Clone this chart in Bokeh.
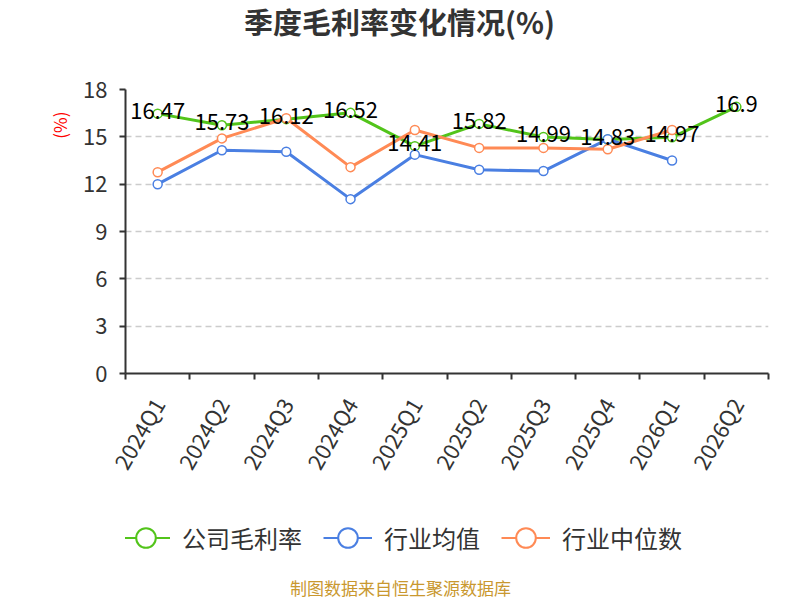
import math
from bokeh.plotting import figure
from bokeh.layouts import column
from bokeh.models import (ColumnDataSource, FixedTicker, Legend, LegendItem, Range1d, Title, Label)
from bokeh.core.properties import value
from bokeh.embed import file_html
from bokeh.resources import INLINE

quarters = ["2024Q1", "2024Q2", "2024Q3", "2024Q4", "2025Q1", "2025Q2",
            "2025Q3", "2025Q4", "2026Q1", "2026Q2"]
company = [16.47, 15.73, 16.12, 16.52, 14.41, 15.82, 14.99, 14.83, 14.97, 16.9]
industry_mean = [12.0, 14.15, 14.05, 11.05, 13.87, 12.91, 12.83, 14.85, 13.5]
industry_median = [12.76, 14.9, 16.18, 13.08, 15.43, 14.3, 14.3, 14.21, 15.43]
y_ticks = [0, 3, 6, 9, 12, 15, 18]

FONT = "Noto Sans CJK SC"
GREEN = "#52c41a"
BLUE = "#4a7fe2"
ORANGE = "#ff8a55"

W = 800
H_TOP, H_MAIN, H_LEG = 50, 455, 95
FRAME_LEFT = 125

# ---- title strip ----
p0 = figure(width=W, height=H_TOP, output_backend="svg", toolbar_location=None,
            x_axis_location=None, y_axis_location=None,
            x_range=Range1d(0, 1), y_range=Range1d(0, 1), min_border=0)
p0.outline_line_color = None
p0.grid.grid_line_color = None
p0.add_layout(Label(x=400 - FRAME_LEFT - 1, y=30, x_units="screen", y_units="screen",
                    text="季度毛利率变化情况(%)", text_font=FONT, text_font_size="29px",
                    text_font_style="bold", text_color="#333333",
                    text_align="center", text_baseline="middle"))

# ---- main chart ----
p = figure(width=W, height=H_MAIN, output_backend="svg", toolbar_location=None,
           x_range=Range1d(0, len(quarters)), y_range=Range1d(0, 18),
           min_border_left=FRAME_LEFT, min_border_right=32, min_border_top=89 - H_TOP,
           min_border_bottom=H_MAIN - (373 - H_TOP))
p.outline_line_color = None

centers = [i + 0.5 for i in range(len(quarters))]

p.xaxis.ticker = FixedTicker(ticks=centers, minor_ticks=list(range(len(quarters) + 1)))
p.xaxis.major_label_overrides = {c: q for c, q in zip(centers, quarters)}
p.xaxis.major_tick_line_color = None
p.xaxis.minor_tick_line_color = "#333333"
p.xaxis.minor_tick_out = 6
p.xaxis.minor_tick_in = 0
p.xaxis.minor_tick_line_width = 2
p.xaxis.axis_line_color = "#333333"
p.xaxis.axis_line_width = 2
p.xaxis.major_label_orientation = math.pi / 3
p.xaxis.major_label_text_font = FONT
p.xaxis.major_label_text_font_size = "22px"
p.xaxis.major_label_text_color = "#333333"
p.xaxis.major_label_standoff = 20

p.yaxis.ticker = FixedTicker(ticks=y_ticks)
p.yaxis.minor_tick_line_color = None
p.yaxis.major_tick_out = 6
p.yaxis.major_tick_in = 0
p.yaxis.major_tick_line_width = 2
p.yaxis.major_tick_line_color = "#333333"
p.yaxis.axis_line_color = "#333333"
p.yaxis.axis_line_width = 2
p.yaxis.major_label_text_font = FONT
p.yaxis.major_label_text_font_size = "22px"
p.yaxis.major_label_text_color = "#333333"
p.yaxis.major_label_standoff = 12

p.xgrid.grid_line_color = None
p.ygrid.grid_line_color = "#cccccc"
p.ygrid.grid_line_dash = "6 4"
p.ygrid.grid_line_width = 1.5

p.add_layout(Title(text="(%)", align="right", offset=22, text_font=FONT,
                   text_font_size="17px", text_font_style="normal",
                   text_color="#ff0000", standoff=18), "left")

series = [
    ("公司毛利率", company, GREEN),
    ("行业均值", industry_mean, BLUE),
    ("行业中位数", industry_median, ORANGE),
]

# ---- legend + source strip (renderers hold real data but lie out of view) ----
p2 = figure(width=W, height=H_LEG, output_backend="svg", toolbar_location=None,
            x_axis_location=None, y_axis_location=None,
            x_range=Range1d(0, len(quarters)), y_range=Range1d(100, 101),
            min_border=0)
p2.outline_line_color = None
p2.grid.grid_line_color = None

items = []
for name, vals, col in series:
    src = ColumnDataSource(dict(x=centers[:len(vals)], y=vals))
    p.line("x", "y", source=src, line_color=col, line_width=3)
    p.scatter("x", "y", source=src, size=9, fill_color="white",
              line_color=col, line_width=1.5)
    lg = p2.line("x", "y", source=src, line_color=col, line_width=2)
    sg = p2.scatter("x", "y", source=src, size=20, fill_color="white",
                    line_color=col, line_width=2)
    items.append(LegendItem(label=name, renderers=[lg, sg]))

lbl_src = ColumnDataSource(dict(x=centers[:len(company)], y=company,
                                t=[str(v) for v in company]))
p.text("x", "y", text="t", source=lbl_src, text_align="center",
       text_baseline="middle", text_font=value(FONT), text_font_size="22px",
       text_color="#000000", y_offset=-3)

legend = Legend(items=items, orientation="horizontal", location=(121 - FRAME_LEFT, 38),
                label_text_font=FONT, label_text_font_size="24px",
                label_text_color="#333333", glyph_width=49, glyph_height=49,
                spacing=21, padding=0, margin=0, border_line_color=None,
                background_fill_alpha=0, label_standoff=12)
p2.add_layout(legend, "center")

p2.add_layout(Label(x=400 - FRAME_LEFT, y=13, x_units="screen", y_units="screen",
                    text="制图数据来自恒生聚源数据库", text_font=FONT,
                    text_font_size="17px", text_color="#c9982f",
                    text_align="center", text_baseline="middle"))

open("out.html", "w").write(file_html(column(p0, p, p2, spacing=0), INLINE))
